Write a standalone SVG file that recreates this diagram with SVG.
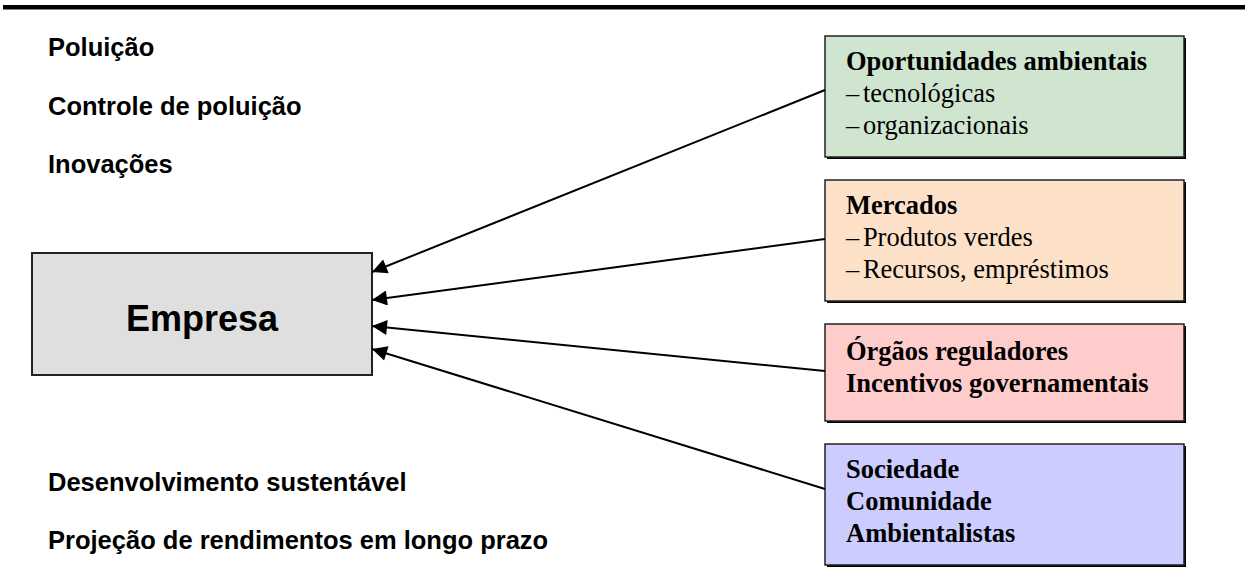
<svg xmlns="http://www.w3.org/2000/svg" width="1248" height="571" viewBox="0 0 1248 571">
<defs>
<marker id="ah" viewBox="0 0 10 10" refX="10" refY="5" markerWidth="17" markerHeight="15" markerUnits="userSpaceOnUse" orient="auto">
<path d="M0,0 L10,5 L0,10 Z" fill="#000"/>
</marker>
<style>
.lbl{font-family:"Liberation Sans",Arial,sans-serif;font-weight:bold;font-size:25.5px;fill:#000}
.emp{font-family:"Liberation Sans",Arial,sans-serif;font-weight:bold;font-size:36px;fill:#000}
.bt{font-family:"Liberation Serif","Times New Roman",serif;font-size:26.5px;fill:#000}
.b{font-weight:bold}
.d{word-spacing:-3px}
.box{stroke:#222;stroke-width:1.5}
.sh{fill:#000}
.conn{stroke:#000;stroke-width:2;fill:none}
</style>
</defs>
<rect x="3" y="5" width="1242" height="4.5" fill="#000"/>
<g id="labels">
<text class="lbl" x="48" y="56">Poluição</text>
<text class="lbl" x="48" y="115">Controle de poluição</text>
<text class="lbl" x="48" y="173">Inovações</text>
<text class="lbl" x="48" y="491">Desenvolvimento sustentável</text>
<text class="lbl" x="48" y="549">Projeção de rendimentos em longo prazo</text>
</g>
<g id="empresa">
<rect x="32" y="253" width="340" height="122" fill="#dfdfdf" stroke="#222" stroke-width="2"/>
<text class="emp" x="202" y="331" text-anchor="middle">Empresa</text>
</g>
<g id="oportunidades">
<rect class="sh" x="827" y="38" width="359" height="121"/>
<rect class="box" x="825" y="36" width="359" height="121" fill="#cfe5cf"/>
<text class="bt" x="846" y="70"><tspan class="b">Oportunidades ambientais</tspan><tspan x="846" y="102"><tspan class="d">– </tspan>tecnológicas</tspan><tspan x="846" y="134"><tspan class="d">– </tspan>organizacionais</tspan></text>
</g>
<g id="mercados">
<rect class="sh" x="827" y="182" width="359" height="121"/>
<rect class="box" x="825" y="180" width="359" height="121" fill="#fde0c8"/>
<text class="bt" x="846" y="214"><tspan class="b">Mercados</tspan><tspan x="846" y="246"><tspan class="d">– </tspan>Produtos verdes</tspan><tspan x="846" y="278"><tspan class="d">– </tspan>Recursos, empréstimos</tspan></text>
</g>
<g id="orgaos">
<rect class="sh" x="827" y="326" width="359" height="97"/>
<rect class="box" x="825" y="324" width="359" height="97" fill="#ffcccc"/>
<text class="bt b" x="846" y="360">Órgãos reguladores<tspan x="846" y="392">Incentivos governamentais</tspan></text>
</g>
<g id="sociedade">
<rect class="sh" x="827" y="446" width="359" height="121"/>
<rect class="box" x="825" y="444" width="359" height="121" fill="#ccccff"/>
<text class="bt b" x="846" y="478">Sociedade<tspan x="846" y="510">Comunidade</tspan><tspan x="846" y="542">Ambientalistas</tspan></text>
</g>
<g id="connectors">
<line class="conn" x1="825" y1="90" x2="372" y2="272" marker-end="url(#ah)"/>
<line class="conn" x1="825" y1="239" x2="372" y2="300" marker-end="url(#ah)"/>
<line class="conn" x1="825" y1="371" x2="372" y2="326" marker-end="url(#ah)"/>
<line class="conn" x1="825" y1="489" x2="372" y2="349" marker-end="url(#ah)"/>
</g>
</svg>
